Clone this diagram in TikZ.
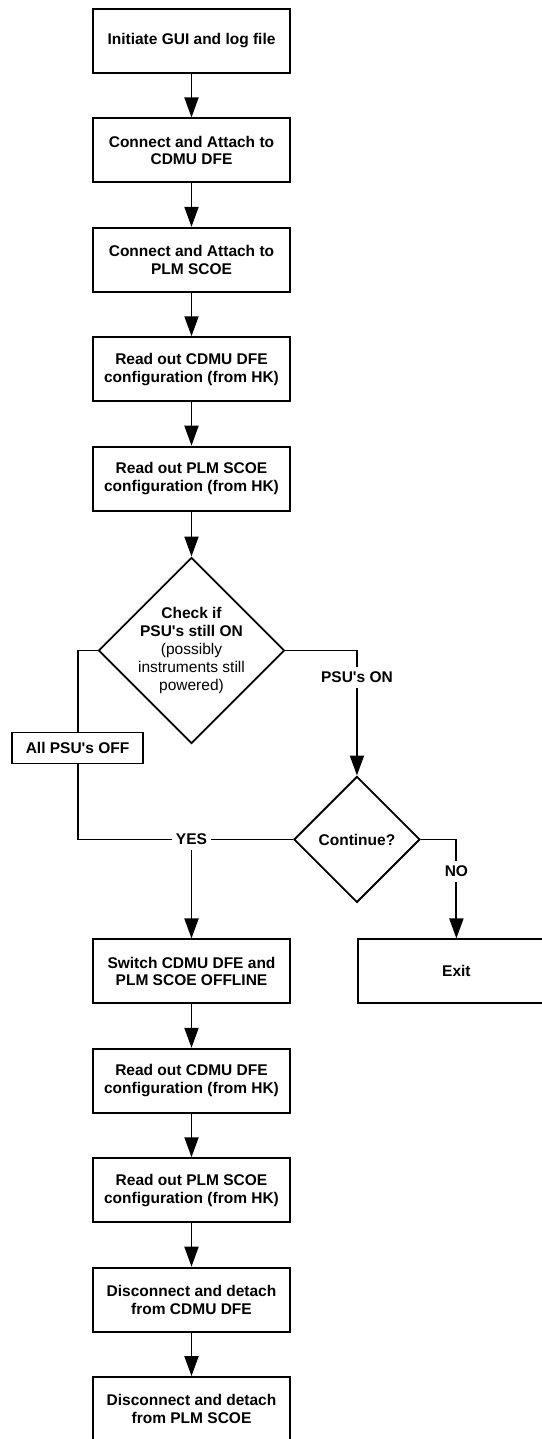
\documentclass[tikz,border=0pt]{standalone}
\usepackage{fontspec}
\setmainfont{Liberation Sans}
\usetikzlibrary{arrows.meta, positioning, shapes.geometric}

\begin{document}
\begin{tikzpicture}[
  font=\fontsize{15.5bp}{17.8bp}\selectfont\bfseries,
  line width=1.9bp,
  stepbox/.style={draw, align=center, minimum width=197bp, minimum height=64bp, inner sep=3bp},
  flagbox/.style={draw, align=center, minimum width=131bp, minimum height=31bp, inner sep=3bp},
  decide/.style={draw, diamond, aspect=1, align=center, inner sep=-8bp},
  lbl/.style={inner xsep=3bp, inner ysep=4bp},
  >={Triangle[length=20bp, width=14bp]}, node distance=43.5bp
]
\useasboundingbox (0,0) rectangle (542bp,-1439bp);
\node[stepbox] (init) at (191.5bp,-41bp) {Initiate GUI and log file};
\node[stepbox, below=of init] (conn1) {Connect and Attach to\\ CDMU DFE};
\node[stepbox, below=of conn1] (conn2) {Connect and Attach to\\ PLM SCOE};
\node[stepbox, below=of conn2] (readA) {Read out CDMU DFE\\ configuration (from HK)};
\node[stepbox, below=of readA] (readB) {Read out PLM SCOE\\ configuration (from HK)};
\node[decide, minimum size=186bp, below=45bp of readB] (check) {Check if\\ PSU\textquotesingle s still ON\\ \mdseries (possibly\\ \mdseries instruments still\\ \mdseries powered)};
\node[flagbox, anchor=north] (alloff) at ([xshift=-20bp, yshift=-81bp]check.west) {All PSU\textquotesingle s OFF};
\node[decide, minimum size=126bp, anchor=north] (cont) at ([xshift=71.5bp, yshift=-125bp]check.east) {Continue?};
\node[stepbox, below=194bp of check] (switch) {Switch CDMU DFE and\\ PLM SCOE OFFLINE};
\node[stepbox, right=66bp of switch] (exit) {Exit};
\node[stepbox, below=of switch] (readC) {Read out CDMU DFE\\ configuration (from HK)};
\node[stepbox, below=of readC] (readD) {Read out PLM SCOE\\ configuration (from HK)};
\node[stepbox, below=of readD] (discA) {Disconnect and detach\\ from CDMU DFE};
\node[stepbox, below=of discA] (discB) {Disconnect and detach\\ from PLM SCOE};
% branch labels
\node[lbl] (on) at ([yshift=-27bp]check.east -| cont.north) {PSU\textquotesingle s ON};
\node[lbl] (yes) at (cont.west -| check.south) {YES};
\node[lbl] (no) at ([yshift=-32bp]cont.east -| exit.north) {NO};
\draw[->] (init) -- (conn1);
\draw[->] (conn1) -- (conn2);
\draw[->] (conn2) -- (readA);
\draw[->] (readA) -- (readB);
\draw[->] (readB) -- (check);
\draw (check.west) -| (alloff.north);
\draw (alloff.south) |- (yes.west);
\draw (yes.east) -- (cont.west);
\draw[->] (yes.south) -- (switch.north);
\draw (check.east) -| (on.north);
\draw[->] (on.south) -- (cont.north);
\draw (cont.east) -| (no.north);
\draw[->] (no.south) -- (exit.north);
\draw[->] (switch) -- (readC);
\draw[->] (readC) -- (readD);
\draw[->] (readD) -- (discA);
\draw[->] (discA) -- (discB);
\end{tikzpicture}
\end{document}
